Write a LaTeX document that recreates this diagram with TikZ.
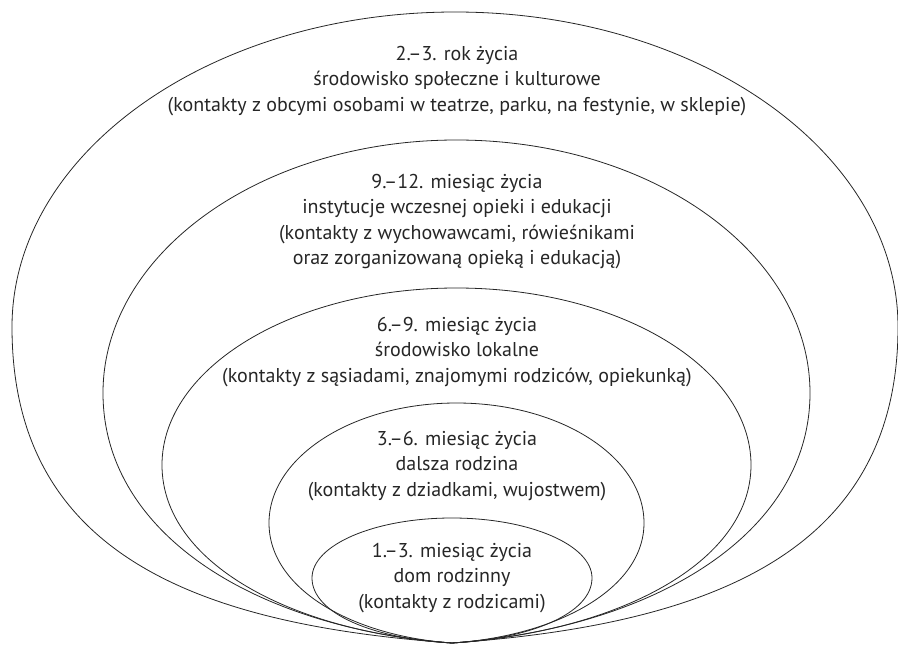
\documentclass[tikz,border=0pt]{standalone}
\usepackage{fontspec}
\setmainfont{PT Sans}
\begin{document}
\begin{tikzpicture}[x=1pt,y=-1pt,
  ring/.style={draw=black!85, line width=0.8pt},
  label/.style={align=center, text=black!85, inner sep=0pt,
    font=\fontsize{20}{25.5}\selectfont}]
\useasboundingbox (0,0) rectangle (898,645);
% common lower point of all rings
\coordinate (tip) at (452,643);
% outer ring: upper half-ellipse, lower part pinched to the tip
\draw[ring] (12,327) arc[start angle=180,end angle=360,x radius=443,y radius=315]
  .. controls (898,557) and (702,625) .. (tip)
  .. controls (202,625) and (12,557) .. cycle;
\draw[ring] (103,393) arc[start angle=180,end angle=360,x radius=353.5,y radius=253]
  .. controls (810,533) and (656,628) .. (tip)
  .. controls (254,628) and (103,533) .. cycle;
\draw[ring] (162,465) arc[start angle=180,end angle=360,x radius=294.5,y radius=177]
  .. controls (751,563) and (617,632) .. (tip)
  .. controls (292,632) and (162,563) .. cycle;
\draw[ring] (269,523) arc[start angle=180,end angle=360,x radius=187.5,y radius=120]
  .. controls (644,589) and (557,636) .. (tip)
  .. controls (352,636) and (269,589) .. cycle;
\draw[ring] (312,578) arc[start angle=180,end angle=360,x radius=140,y radius=60]
  .. controls (592,614) and (529,639) .. (tip)
  .. controls (375,639) and (312,614) .. cycle;
% labels
\node[label] (l5) at (457,81) {2.–3. rok życia\\środowisko społeczne i kulturowe\\(kontakty z obcymi osobami w teatrze, parku, na festynie, w sklepie)};
\node[label] (l4) at (457,221.5) {9.–12. miesiąc życia\\instytucje wczesnej opieki i edukacji\\(kontakty z wychowawcami, rówieśnikami\\oraz zorganizowaną opieką i edukacją)};
\node[label] (l3) at (457,352) {6.–9. miesiąc życia\\środowisko lokalne\\(kontakty z sąsiadami, znajomymi rodziców, opiekunką)};
\node[label] (l2) at (457,466) {3.–6. miesiąc życia\\dalsza rodzina\\(kontakty z dziadkami, wujostwem)};
\node[label] (l1) at (452,578) {1.–3. miesiąc życia\\dom rodzinny\\(kontakty z rodzicami)};
\end{tikzpicture}
\end{document}
